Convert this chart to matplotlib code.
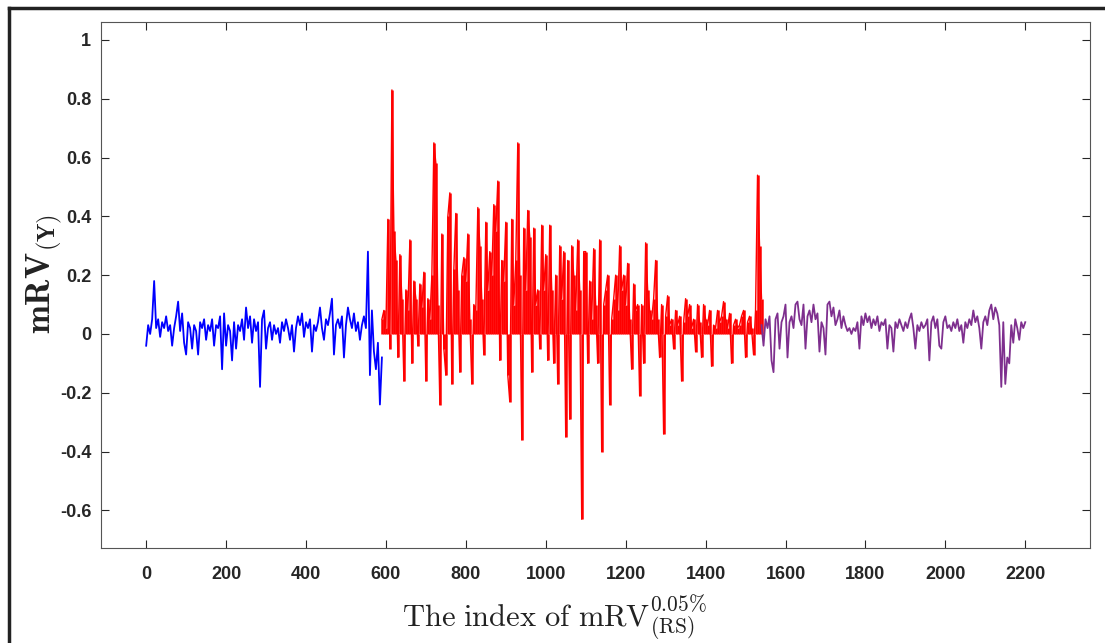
import numpy as np
import matplotlib.pyplot as plt
from matplotlib.lines import Line2D

# index spacing of the sampled values
step = 5

blue_start = 0
blue_vals = [
    -0.04, 0.03, 0.00, 0.05, 0.18, 0.02, 0.05, -0.01, 0.04, 0.02,
    0.06, 0.01, 0.03, -0.04, 0.02, 0.06, 0.11, 0.01, 0.07, -0.03,
    -0.07, 0.04, 0.02, -0.05, 0.03, 0.01, -0.07, 0.04, 0.02, 0.05,
    -0.02, 0.03, 0.01, 0.05, -0.04, 0.03, 0.02, 0.06, -0.12, 0.07,
    -0.04, 0.03, 0.01, -0.09, 0.04, -0.05, 0.03, 0.01, 0.05, -0.02,
    0.09, 0.02, 0.06, -0.03, 0.05, 0.01, 0.04, -0.18, 0.05, 0.08,
    -0.05, 0.02, 0.04, -0.02, 0.03, 0.00, 0.02, -0.03, 0.04, 0.01,
    0.05, 0.02, -0.02, 0.03, -0.06, 0.02, 0.06, 0.03, 0.07, -0.01,
    0.04, 0.02, 0.05, -0.06, 0.03, 0.01, 0.04, 0.09, 0.02, -0.02,
    0.05, 0.03, 0.07, 0.12, -0.07, 0.03, 0.05, 0.02, 0.06, -0.08,
    0.03, 0.09, 0.05, 0.02, 0.07, 0.01, 0.04, -0.02, 0.03, 0.06,
    0.02, 0.28, -0.14, 0.08, -0.06, -0.12, -0.03, -0.24, -0.08,
]

red_start = 590
red_vals = [
    0.05, 0.08, 0.02, 0.39, -0.05, 0.83, 0.35, 0.25, -0.08, 0.27,
    0.12, -0.16, 0.15, 0.08, 0.32, -0.10, 0.18, 0.12, -0.04, 0.17,
    0.09, 0.21, -0.16, 0.12, 0.05, 0.20, 0.65, 0.58, 0.10, -0.24,
    0.34, -0.05, -0.14, 0.40, 0.48, -0.17, 0.22, 0.41, 0.15, -0.13,
    0.20, 0.26, 0.18, 0.34, 0.05, -0.17, 0.10, 0.08, 0.43, 0.30,
    0.12, -0.07, 0.38, 0.15, 0.28, 0.20, 0.44, 0.35, 0.52, -0.09,
    0.25, 0.18, 0.38, -0.14, -0.23, 0.39, 0.10, 0.25, 0.65, 0.20,
    -0.36, 0.36, 0.15, 0.42, 0.33, -0.13, 0.36, 0.10, 0.15, -0.05,
    0.37, 0.15, 0.27, -0.09, 0.37, 0.15, -0.10, 0.20, -0.17, 0.30,
    0.12, 0.28, -0.35, 0.25, -0.29, 0.30, 0.20, 0.08, 0.32, 0.15,
    -0.63, 0.28, 0.28, -0.10, 0.18, 0.05, 0.29, 0.10, -0.10, 0.32,
    -0.40, 0.10, 0.15, 0.20, -0.24, 0.05, 0.12, 0.20, 0.08, 0.30,
    0.15, 0.20, 0.10, 0.24, 0.05, -0.12, 0.17, 0.08, 0.10, -0.21,
    0.10, -0.10, 0.31, 0.15, 0.08, 0.05, 0.12, 0.25, 0.05, -0.08,
    0.10, -0.34, 0.06, 0.13, 0.03, 0.05, -0.05, 0.08, 0.03, 0.06,
    -0.16, 0.04, 0.12, 0.06, 0.10, 0.02, 0.05, -0.06, 0.10, 0.04,
    -0.08, 0.10, 0.05, 0.03, 0.08, -0.11, 0.03, 0.02, 0.08, 0.04,
    0.06, 0.11, 0.05, 0.02, 0.07, -0.10, 0.03, 0.05, 0.02, 0.03,
    0.06, 0.08, -0.08, 0.04, 0.06, 0.02, -0.07, 0.08, 0.54, 0.30,
    0.12,
]

purple_start = 1540
purple_vals = [
    0.03, -0.04, 0.05, 0.02, 0.06, -0.09, -0.13, 0.05, 0.07, -0.05,
    0.04, 0.06, 0.10, -0.08, 0.04, 0.06, 0.02, 0.10, 0.11, 0.05,
    0.03, 0.10, -0.05, 0.06, 0.08, 0.04, 0.10, 0.05, 0.07, -0.06,
    0.04, 0.02, -0.07, 0.10, 0.11, 0.06, 0.09, 0.03, 0.05, 0.08,
    0.02, 0.06, 0.03, 0.01, 0.02, 0.00, 0.02, 0.01, 0.04, -0.05,
    0.06, 0.03, 0.07, 0.04, 0.06, 0.02, 0.05, 0.03, 0.06, 0.01,
    0.04, 0.03, 0.05, -0.05, 0.03, 0.02, -0.06, 0.04, 0.02, 0.05,
    0.03, 0.01, 0.04, 0.02, 0.05, 0.07, 0.02, -0.05, 0.03, 0.01,
    0.04, 0.02, 0.03, 0.05, -0.09, 0.04, 0.06, 0.02, 0.05, -0.04,
    -0.05, 0.04, 0.06, 0.02, 0.03, 0.01, 0.04, 0.02, 0.05, 0.01,
    0.03, -0.03, 0.04, 0.02, 0.05, 0.03, 0.08, 0.04, 0.06, 0.02,
    -0.05, 0.04, 0.06, 0.03, 0.08, 0.10, 0.05, 0.09, 0.07, 0.03,
    -0.18, 0.04, -0.17, -0.08, -0.10, 0.03, -0.03, 0.05, 0.02, -0.02,
    0.04, 0.02, 0.04,
]

x_ticks = list(range(0, 2201, 200))
y_ticks = [-0.6, -0.4, -0.2, 0, 0.2, 0.4, 0.6, 0.8, 1]
y_tick_labels = ['-0.6', '-0.4', '-0.2', '0', '0.2', '0.4', '0.6', '0.8', '1']

BLUE = '#0000ff'
RED = '#ff0000'
PURPLE = '#7e2f8e'
AX_COLOR = '#262626'


def index_of(start, vals):
    return start + step * np.arange(len(vals))


def main():
    plt.rcParams['mathtext.fontset'] = 'cm'
    tick_font = ['Liberation Sans Narrow', 'Liberation Sans', 'DejaVu Sans']

    fig = plt.figure(figsize=(11.05, 6.43), dpi=100)
    ax = fig.add_axes([101 / 1105, 95 / 643, 989 / 1105, 526 / 643])

    xb = index_of(blue_start, blue_vals)
    xr = index_of(red_start, red_vals)
    xp = index_of(purple_start, purple_vals)

    ax.plot(xb, blue_vals, color=BLUE, lw=1.3)
    ax.vlines(xr, 0, red_vals, color=RED, lw=1.8)
    ax.plot(xr, red_vals, color=RED, lw=1.0)
    ax.plot(xp, purple_vals, color=PURPLE, lw=1.3)

    ax.set_xlim(-113, 2362)
    ax.set_ylim(-0.728, 1.061)
    ax.set_xticks(x_ticks)
    ax.set_yticks(y_ticks)
    ax.set_yticklabels(y_tick_labels)
    ax.tick_params(direction='in', length=6, width=0.8, colors=AX_COLOR,
                   top=True, right=True, labeltop=False, labelright=False)
    ax.tick_params(axis='x', pad=13)
    ax.tick_params(axis='y', pad=7)
    for lab in ax.get_xticklabels() + ax.get_yticklabels():
        lab.set_family(tick_font)
        lab.set_fontweight('bold')
        lab.set_fontsize(13)
    for s in ax.spines.values():
        s.set_color('#555555')
        s.set_linewidth(0.8)

    ax.set_xlabel(r'$\mathrm{The\ index\ of\ mRV}^{0.05\%}_{\mathrm{(RS)}}$',
                  fontsize=22, color='#222222')
    ax.xaxis.set_label_coords((554 - 101) / 989, -0.086)
    ax.set_ylabel(r'$\mathbf{mRV}_{\mathbf{(Y)}}$', fontsize=25,
                  color='#222222')
    ax.yaxis.set_label_coords(-0.036, 0.52)

    # outer frame of the picture (left and top edges)
    fig.add_artist(Line2D([9 / 1105, 1.0], [1 - 8 / 643, 1 - 8 / 643],
                          transform=fig.transFigure, color='#222222', lw=2.5))
    fig.add_artist(Line2D([9 / 1105, 9 / 1105], [0.0, 1 - 8 / 643],
                          transform=fig.transFigure, color='#222222', lw=2.5))

    fig.savefig('out.png', dpi=100)


if __name__ == '__main__':
    main()
